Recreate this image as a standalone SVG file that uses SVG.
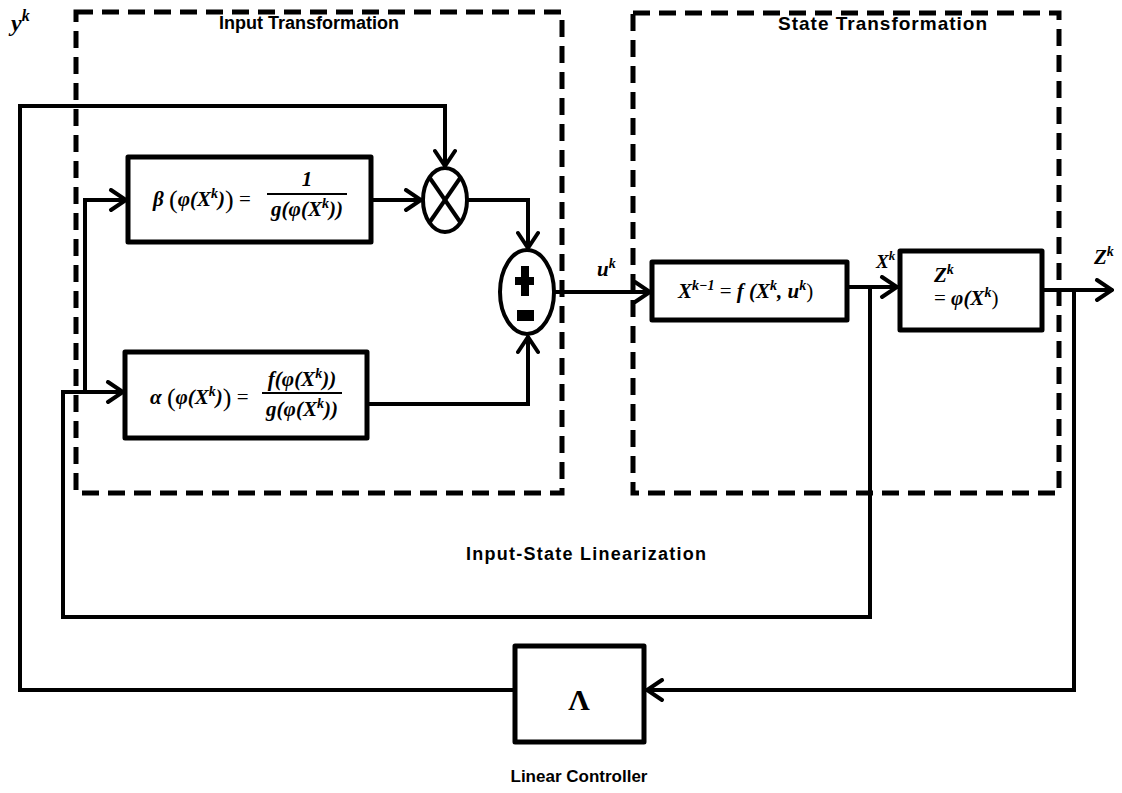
<svg xmlns="http://www.w3.org/2000/svg" width="1122" height="793" viewBox="0 0 1122 793">
<style>
.dash{fill:none;stroke:#000;stroke-width:5;stroke-dasharray:17 9}
.box{fill:#fff;stroke:#000;stroke-width:5;stroke-linejoin:round}
.wire{fill:none;stroke:#000;stroke-width:4;stroke-linejoin:miter}
.lbl{font-family:"Liberation Sans",Arial,sans-serif;font-weight:bold;font-size:18px;fill:#000}
.math{font-family:"Liberation Serif","DejaVu Serif",serif;font-weight:bold;font-style:italic;font-size:21px;fill:#000}
.up{font-size:14px}
.rm{font-style:normal;font-weight:normal}
</style>
<defs>
<marker id="arr" viewBox="0 0 20 24" markerWidth="20" markerHeight="24" refX="19" refY="12" orient="auto" markerUnits="userSpaceOnUse">
<path d="M3,2 L18,12 L3,22" fill="none" stroke="#000" stroke-width="4" stroke-linecap="round" stroke-linejoin="miter"/>
</marker>
</defs>
<rect width="1122" height="793" fill="#fff"/>

<g id="input-transformation">
<rect class="dash" x="76" y="12" width="486" height="481"/>
<text class="lbl" x="309" y="29" text-anchor="middle">Input Transformation</text>
</g>
<g id="state-transformation">
<rect class="dash" x="633" y="13" width="426" height="480"/>
<text class="lbl" x="778" y="30" textLength="209" lengthAdjust="spacing" style="font-size:19px">State Transformation</text>
</g>

<g id="connectors">
<path class="wire" d="M515,690 H20 V106 H445 V167" marker-end="url(#arr)"/>
<path class="wire" d="M1074,290 V690 H646" marker-end="url(#arr)"/>
<path class="wire" d="M870,287 V617 H63 V392 H124" marker-end="url(#arr)"/>
<path class="wire" d="M85,392 V200 H127" marker-end="url(#arr)"/>
<path class="wire" d="M371,200 H422" marker-end="url(#arr)"/>
<path class="wire" d="M467,200 H528 V249" marker-end="url(#arr)"/>
<path class="wire" d="M367,404 H528 V336" marker-end="url(#arr)"/>
<path class="wire" d="M554,292 H651" marker-end="url(#arr)"/>
<path class="wire" d="M847,287 H898" marker-end="url(#arr)"/>
<path class="wire" d="M1042,290 H1113" marker-end="url(#arr)"/>
</g>

<g id="beta">
<rect class="box" x="128" y="157" width="243" height="85"/>
<text class="math" x="153" y="206">β <tspan class="rm" font-size="26" dy="2">(</tspan><tspan dy="-2">φ(X</tspan><tspan class="up" dy="-8">k</tspan><tspan dy="8">)</tspan><tspan class="rm" font-size="26" dy="2">)</tspan><tspan class="rm" dy="-2"> = </tspan></text>
<text class="math" x="307" y="186" text-anchor="middle">1</text>
<line x1="267" y1="194" x2="347" y2="194" stroke="#000" stroke-width="2"/>
<text class="math" x="307" y="216" text-anchor="middle">g(φ(X<tspan class="up" dy="-8">k</tspan><tspan dy="8">))</tspan></text>
</g>

<g id="alpha">
<rect class="box" x="125" y="352" width="242" height="86"/>
<text class="math" x="150" y="404">α <tspan class="rm" font-size="26" dy="2">(</tspan><tspan dy="-2">φ(X</tspan><tspan class="up" dy="-8">k</tspan><tspan dy="8">)</tspan><tspan class="rm" font-size="26" dy="2">)</tspan><tspan class="rm" dy="-2"> = </tspan></text>
<text class="math" x="302" y="386" text-anchor="middle">f(φ(X<tspan class="up" dy="-8">k</tspan><tspan dy="8">))</tspan></text>
<line x1="262" y1="393" x2="342" y2="393" stroke="#000" stroke-width="2"/>
<text class="math" x="302" y="416" text-anchor="middle">g(φ(X<tspan class="up" dy="-8">k</tspan><tspan dy="8">))</tspan></text>
</g>

<g id="multiplier">
<ellipse cx="445" cy="200" rx="22" ry="32" fill="#fff" stroke="#000" stroke-width="4"/>
<line x1="429.5" y1="177.5" x2="460.5" y2="222.5" stroke="#000" stroke-width="4"/>
<line x1="460.5" y1="177.5" x2="429.5" y2="222.5" stroke="#000" stroke-width="4"/>
</g>

<g id="summer">
<ellipse cx="527" cy="292" rx="27" ry="42" fill="#fff" stroke="#000" stroke-width="4"/>
<rect x="515" y="277" width="19" height="8" fill="#000"/>
<rect x="521" y="266" width="8" height="30" fill="#000"/>
<rect x="517" y="310" width="17" height="11" fill="#000"/>
</g>

<g id="state-eq">
<rect class="box" x="652" y="262" width="195" height="58"/>
<text class="math" x="678" y="298">X<tspan class="up" dy="-8">k−1</tspan><tspan class="rm" dy="8"> = </tspan>f (X<tspan class="up" dy="-8">k</tspan><tspan dy="8">, u</tspan><tspan class="up" dy="-8">k</tspan><tspan class="rm" dy="8">)</tspan></text>
</g>

<g id="output-eq">
<rect class="box" x="900" y="251" width="142" height="79"/>
<text class="math" x="934" y="282">Z<tspan class="up" dy="-8">k</tspan></text>
<text class="math" x="934" y="305"><tspan class="rm">=  </tspan>φ(X<tspan class="up" dy="-8">k</tspan><tspan class="rm" dy="8">)</tspan></text>
</g>

<g id="linear-controller">
<rect class="box" x="515" y="646" width="129" height="96"/>
<text x="579" y="710" text-anchor="middle" font-family="'Liberation Serif','DejaVu Serif',serif" font-weight="bold" font-size="30">Λ</text>
<text class="lbl" x="579" y="782" text-anchor="middle" style="font-size:17px">Linear Controller</text>
</g>

<g id="labels">
<text class="math" x="11" y="31" style="font-size:24px">y<tspan class="up" dy="-10" style="font-size:16px">k</tspan></text>
<text class="math" x="597" y="276">u<tspan class="up" dy="-8">k</tspan></text>
<text class="math" x="876" y="268" style="font-size:19px">X<tspan class="up" dy="-8" style="font-size:13px">k</tspan></text>
<text class="math" x="1094" y="264">Z<tspan class="up" dy="-8">k</tspan></text>
<text class="lbl" x="466" y="560" textLength="240" lengthAdjust="spacing">Input-State Linearization</text>
</g>
</svg>
